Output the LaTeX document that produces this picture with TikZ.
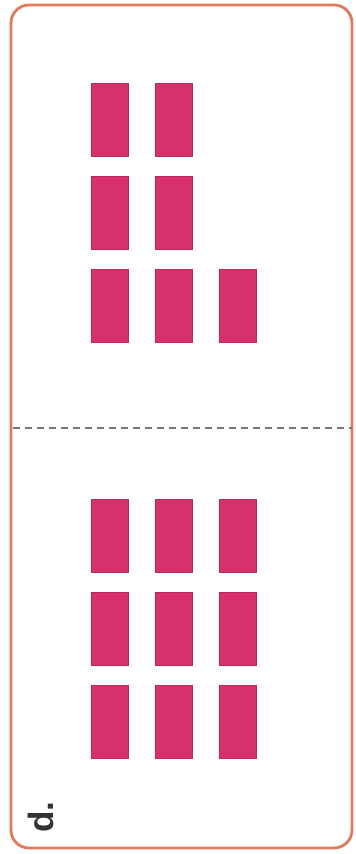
\documentclass[tikz,border=0pt]{standalone}
\usepackage{fontspec}
\setsansfont{Liberation Sans}
\usetikzlibrary{positioning}
\definecolor{cardcolor}{RGB}{224,122,92}
\definecolor{barcolor}{RGB}{216,48,108}
\definecolor{foldcolor}{RGB}{120,120,120}

\begin{document}
\begin{tikzpicture}[font=\sffamily]

  \useasboundingbox (0,0) rectangle (17.75,42.7);

  \tikzset{
    bar/.style={
      fill=barcolor, draw=barcolor!85!black, line width=0.4pt,
      minimum width=1.85cm, minimum height=3.65cm, inner sep=0pt
    },
    fold/.style={
      draw=foldcolor, line width=3.4pt, dash pattern=on 0.33cm off 0.27cm
    }
  }

  % ---- Card outline ----
  \node[draw=cardcolor, line width=4pt, rounded corners=0.9cm,
        minimum width=17.05cm, minimum height=42.15cm, inner sep=0pt]
    (card) at (9.075, 21.375) {};

  % ---- Fold line ----
  \coordinate (foldL) at (0.65, 21.3);
  \coordinate (foldR) at (17.6, 21.3);
  \draw[fold] (foldL) -- (foldR);

  % ---- Top half: 2 + 2 + 3 ----
  \node[bar] (t11) at (5.475, 36.725) {};
  \node[bar, right=1.35cm of t11] (t12) {};
  \node[bar, below=1.0cm of t11] (t21) {};
  \node[bar, right=1.35cm of t21] (t22) {};
  \node[bar, below=1.0cm of t21] (t31) {};
  \node[bar, right=1.35cm of t31] (t32) {};
  \node[bar, right=1.35cm of t32] (t33) {};

  % ---- Bottom half: 3 + 3 + 3 ----
  \node[bar] (b11) at (5.475, 15.925) {};
  \node[bar, right=1.35cm of b11] (b12) {};
  \node[bar, right=1.35cm of b12] (b13) {};
  \node[bar, below=1.0cm of b11] (b21) {};
  \node[bar, right=1.35cm of b21] (b22) {};
  \node[bar, right=1.35cm of b22] (b23) {};
  \node[bar, below=1.0cm of b21] (b31) {};
  \node[bar, right=1.35cm of b31] (b32) {};
  \node[bar, right=1.35cm of b32] (b33) {};

  % label
  \node[rotate=90, font=\sffamily\bfseries\fontsize{50}{50}\selectfont,
        text=black!80, inner sep=0pt] (tag) at (2.05, 1.85) {d.};

\end{tikzpicture}
\end{document}
